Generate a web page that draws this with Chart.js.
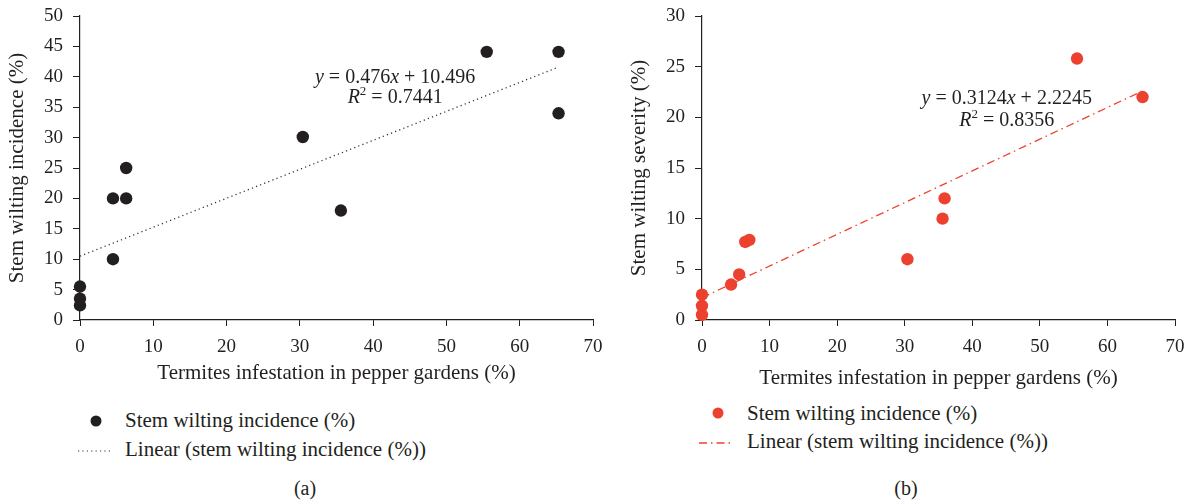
<!DOCTYPE html>
<html>
<head>
<meta charset="utf-8">
<script src="https://cdn.jsdelivr.net/npm/chart.js@4.4.1/dist/chart.umd.min.js"></script>
<style>
  body { margin: 0; background: #fff; width: 1191px; height: 500px; position: relative; overflow: hidden;
         font-family: "Liberation Serif", "DejaVu Serif", serif; color: #231f20; }
  canvas { position: absolute; top: -6px; }
  .lg { position: absolute; font-size: 21px; line-height: 24px; white-space: nowrap; }
  .cap { position: absolute; font-size: 20px; line-height: 22px; transform: translateX(-50%); }
  svg { position: absolute; }
</style>
</head>
<body>
<canvas id="chartA" width="615" height="402" style="left:0"></canvas>
<canvas id="chartB" width="575" height="402" style="left:622px"></canvas>

<!-- legend (a) -->
<svg style="left:88px;top:413px" width="16" height="16"><circle cx="8" cy="8" r="5.5" fill="#231f20"/></svg>
<div class="lg" style="left:125px;top:408px">Stem wilting incidence (%)</div>
<svg style="left:76px;top:446px" width="40" height="10"><line x1="2" y1="5" x2="37" y2="5" stroke="#333" stroke-width="1.2" stroke-dasharray="1.2 3.2"/></svg>
<div class="lg" style="left:125px;top:437px">Linear (stem wilting incidence (%))</div>
<div class="cap" style="left:305px;top:477px">(a)</div>

<!-- legend (b) -->
<svg style="left:710px;top:405px" width="16" height="16"><circle cx="8" cy="8" r="5.5" fill="#ed4130"/></svg>
<div class="lg" style="left:747px;top:401px">Stem wilting incidence (%)</div>
<svg style="left:697px;top:438px" width="40" height="10"><line x1="2" y1="5" x2="37" y2="5" stroke="#ed4130" stroke-width="1.3" stroke-dasharray="8 4 1.5 4"/></svg>
<div class="lg" style="left:747px;top:429px">Linear (stem wilting incidence (%))</div>
<div class="cap" style="left:906px;top:477px">(b)</div>

<script>
// termites infestation (%) vs stem wilting incidence (%)  -- panel (a)
var infestA = [0, 0, 0, 4.5, 4.5, 6.3, 6.3, 30.4, 35.6, 55.5, 65.3, 65.3];
var incidenceA = [5.5, 3.5, 2.4, 20, 10, 25, 20, 30.1, 18, 44.1, 44.1, 34];
var trendXA = [0, 65.3];
var trendYA = [10.5, 41.6];

// termites infestation (%) vs stem wilting severity (%)  -- panel (b)
var infestB = [0, 0, 0, 4.3, 5.5, 6.4, 7.0, 30.4, 35.6, 35.9, 55.5, 65.2];
var severityB = [2.5, 1.4, 0.5, 3.5, 4.5, 7.7, 7.9, 6, 10, 12, 25.8, 22];
var trendXB = [0, 65.2];
var trendYB = [2.2, 22.6];

var xTicks = [0, 10, 20, 30, 40, 50, 60, 70];

Chart.defaults.font.family = '"Liberation Serif", "DejaVu Serif", serif';
Chart.defaults.color = '#231f20';

function pts(xs, ys) {
    return xs.map(function (x, i) { return { x: x, y: ys[i] }; });
}

// draws the regression equation and R² (italic y, x, R and superscript 2)
var equationPlugin = {
    id: 'equation',
    afterDatasetsDraw: function (chart, args, opts) {
        var ctx = chart.ctx;
        var cx = chart.scales.x.getPixelForValue(opts.x);
        var cy = chart.scales.y.getPixelForValue(opts.y);
        var normal = '20px "Liberation Serif", serif';
        var italic = 'italic 20px "Liberation Serif", serif';
        var small = '13px "Liberation Serif", serif';
        ctx.save();
        ctx.fillStyle = '#231f20';
        ctx.textBaseline = 'alphabetic';
        opts.lines.forEach(function (line, li) {
            var total = 0;
            line.forEach(function (seg) {
                ctx.font = seg.i ? italic : (seg.sup ? small : normal);
                total += ctx.measureText(seg.t).width;
            });
            var x = cx - total / 2;
            var y = cy + li * opts.gap;
            line.forEach(function (seg) {
                ctx.font = seg.i ? italic : (seg.sup ? small : normal);
                ctx.fillText(seg.t, x, seg.sup ? y - 8 : y);
                x += ctx.measureText(seg.t).width;
            });
        });
        ctx.restore();
    }
};

function makeChart(id, xs, ys, tx, ty, color, dash, dashColor, yMax, yTitle, eq, titleBottom) {
    return new Chart(document.getElementById(id).getContext('2d'), {
        type: 'scatter',
        data: {
            datasets: [{
                label: 'Stem wilting incidence (%)',
                data: pts(xs, ys),
                backgroundColor: color,
                borderWidth: 0,
                pointRadius: 6.2,
                pointHoverRadius: 6.2,
                clip: false
            }, {
                label: 'Linear (stem wilting incidence (%))',
                data: pts(tx, ty),
                showLine: true,
                borderColor: dashColor,
                borderWidth: 1.3,
                borderDash: dash,
                pointRadius: 0,
                fill: false
            }]
        },
        options: {
            responsive: false,
            animation: false,
            layout: { padding: { top: 22, right: 22, left: 0, bottom: 0 } },
            plugins: {
                legend: { display: false },
                tooltip: { enabled: false },
                equation: eq
            },
            scales: {
                x: {
                    type: 'linear',
                    min: 0,
                    max: 70,
                    afterBuildTicks: function (s) { s.ticks = xTicks.map(function (v) { return { value: v }; }); },
                    afterFit: function (s) { s.height = 76; },
                    grid: { drawOnChartArea: false, drawTicks: true, tickLength: 6, color: '#231f20' },
                    border: { color: '#231f20', width: 1.2 },
                    ticks: { padding: 10, font: { size: 19 }, maxRotation: 0 },
                    title: {
                        display: true,
                        text: 'Termites infestation in pepper gardens (%)',
                        font: { size: 21 },
                        padding: { top: 0, bottom: titleBottom }
                    }
                },
                y: {
                    min: 0,
                    max: yMax,
                    afterFit: function (s) { s.width = 80; },
                    grid: { drawOnChartArea: false, drawTicks: true, tickLength: 7, color: '#231f20' },
                    border: { color: '#231f20', width: 1.2 },
                    ticks: { stepSize: 5, padding: 10, font: { size: 19 } },
                    title: {
                        display: true,
                        text: yTitle,
                        font: { size: 21 },
                        padding: { top: 5, bottom: 0 }
                    }
                }
            }
        },
        plugins: [equationPlugin]
    });
}

makeChart('chartA', infestA, incidenceA, trendXA, trendYA, '#231f20', [1.2, 3.2], '#333333', 50,
    'Stem wilting incidence (%)',
    { x: 43, y: 38.9, gap: 20, lines: [
        [{ t: 'y', i: true }, { t: ' = 0.476' }, { t: 'x', i: true }, { t: ' + 10.496' }],
        [{ t: 'R', i: true }, { t: '2', sup: true }, { t: ' = 0.7441' }]
    ] }, 10.4);

makeChart('chartB', infestB, severityB, trendXB, trendYB, '#ed4130', [8, 4, 1.5, 4], '#ed4130', 30,
    'Stem wilting severity (%)',
    { x: 45.1, y: 21.3, gap: 22, lines: [
        [{ t: 'y', i: true }, { t: ' = 0.3124' }, { t: 'x', i: true }, { t: ' + 2.2245' }],
        [{ t: 'R', i: true }, { t: '2', sup: true }, { t: ' = 0.8356' }]
    ] }, 5.4);
</script>
</body>
</html>
